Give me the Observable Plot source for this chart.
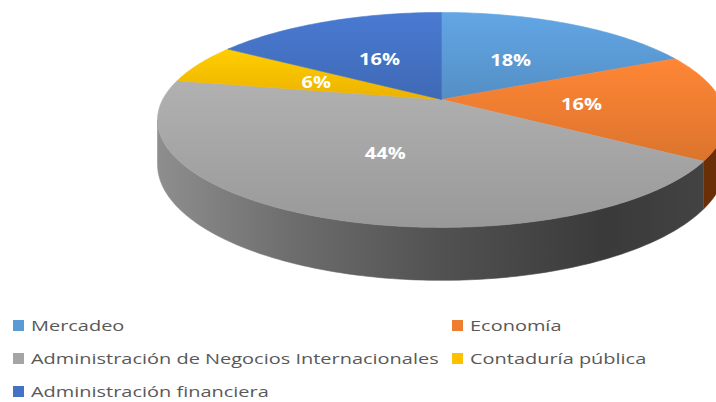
<!DOCTYPE html>
<html><head><meta charset="utf-8">
<script src="https://cdn.jsdelivr.net/npm/d3@7"></script>
<script src="https://cdn.jsdelivr.net/npm/@observablehq/plot@0.6"></script>
<style>
body{margin:0;background:#fff;overflow:hidden;font-family:"Open Sans",sans-serif}
#chart svg{display:block;overflow:hidden}
#legend{position:relative;height:102px;width:716px}
.item{position:absolute;display:flex;align-items:center;color:#595959;font-size:15px;white-space:nowrap;height:20px;margin-top:-10px}
.sw{width:11px;height:11px;margin-right:7px;flex:none}
.lab{display:inline-block;transform:scaleX(1.33);transform-origin:left center}
</style></head><body>
<div id="chart"></div><div id="legend"></div>
<script>
// ---- data ----
const categories = ["Mercadeo","Economía","Administración de Negocios Internacionales","Contaduría pública","Administración financiera"];
const values = [18, 16, 44, 6, 16];
const labels = ["18%","16%","44%","6%","16%"];
const colors = ["#5b9bd5","#ed7d31","#a5a5a5","#ffc000","#4472c4"];
const sideColors = ["#2d5a85","#6a2f06","#555555","#8a6800","#233f75"];

// ---- layout / projection ----
const W = 716, H = 300;
const cx = 441, cy = 99, rx = 278.8, ry = 103.6;
const q = 0.19;          // perspective strength
const depth = 0.414;     // pie thickness (in ry units)
function proj(theta, r, h = 0) {
  const wx = r * Math.sin(theta), wy = -r * Math.cos(theta);
  const den = 1 - q * wy;
  return {x: wx / den, y: (wy + h) / den};
}
function arcPts(a0, a1, r, h) {
  const n = Math.max(2, Math.ceil(Math.abs(a1 - a0) / (Math.PI / 180)));
  return d3.range(n + 1).map(i => proj(a0 + (a1 - a0) * i / n, r, h));
}

const data = categories.map((c, i) => ({cat: c, value: values[i], label: labels[i], i}));
const arcs = d3.pie().sort(null).value(d => d.value)(data);

const thR = Math.acos(-q), thL = 2 * Math.PI - thR;
const marks = [];

// side walls (front part only)
arcs.forEach(a => {
  const s = Math.max(a.startAngle, thR), e = Math.min(a.endAngle, thL);
  if (e <= s) return;
  const pts = [...arcPts(s, e, 1, 0), ...arcPts(e, s, 1, depth)];
  const fill = a.data.i === 2 ? "url(#sideGray)" : sideColors[a.data.i];
  marks.push(Plot.line(pts, {x: "x", y: "y", fill, stroke: fill, strokeWidth: 0.6, clip: true}));
});

// top faces
arcs.forEach(a => {
  const pts = [{x: 0, y: 0}, ...arcPts(a.startAngle, a.endAngle, 1, 0), {x: 0, y: 0}];
  const fill = "url(#top" + a.data.i + ")";
  marks.push(Plot.line(pts, {x: "x", y: "y", fill, stroke: fill, strokeWidth: 0.6, clip: true}));
});

// labels
const labPts = arcs.map(a => ({...proj((a.startAngle + a.endAngle) / 2, 0.5, 0), label: a.data.label}));
marks.push(Plot.text(labPts, {x: "x", y: "y", text: "label", fill: "white", fontWeight: "bold",
  fontSize: 16, dy: 2, fontFamily: "Open Sans", className: "pielab"}));

const chart = Plot.plot({
  width: W, height: H, margin: 0,
  style: {background: "white", overflow: "hidden"},
  x: {domain: [-cx / rx, (W - cx) / rx], range: [0, W], axis: null},
  y: {domain: [-cy / ry, (H - cy) / ry], range: [0, H], axis: null},
  marks
});

// gradients
const NS = "http://www.w3.org/2000/svg";
const defs = document.createElementNS(NS, "defs");
function grad(id, stops, attrs) {
  const g = document.createElementNS(NS, "linearGradient");
  g.setAttribute("id", id);
  for (const k in attrs) g.setAttribute(k, attrs[k]);
  stops.forEach(([o, c]) => {
    const s = document.createElementNS(NS, "stop");
    s.setAttribute("offset", o); s.setAttribute("stop-color", c);
    g.appendChild(s);
  });
  defs.appendChild(g);
}
colors.forEach((c, i) => {
  const col = d3.color(c);
  grad("top" + i, [[0, col.brighter(0.2).formatHex()], [1, col.darker(0.22).formatHex()]], {x1: 0, y1: 0, x2: 0, y2: 1});
});
grad("sideGray", [[0, "#8e8e8e"], [0.25, "#6c6c6c"], [0.5, "#525252"], [0.8, "#3a3a3a"], [1, "#444444"]],
  {gradientUnits: "userSpaceOnUse", x1: 157, y1: 0, x2: 716, y2: 0});
chart.insertBefore(defs, chart.firstChild);
document.getElementById("chart").appendChild(chart);

// stretch pie labels horizontally
chart.querySelectorAll(".pielab text").forEach(t => {
  const w = t.getComputedTextLength();
  t.setAttribute("textLength", w * 1.25);
  t.setAttribute("lengthAdjust", "spacingAndGlyphs");
});

// legend
const legend = document.getElementById("legend");
const colX = [13, 452], rowY = [25, 58, 91];
data.forEach((d, i) => {
  const it = document.createElement("div");
  it.className = "item";
  it.style.left = colX[i % 2] + "px";
  it.style.top = rowY[Math.floor(i / 2)] + "px";
  it.innerHTML = `<span class="sw" style="background:${colors[i]}"></span><span class="lab"></span>`;
  it.querySelector(".lab").textContent = d.cat;
  legend.appendChild(it);
});
</script>
</body></html>
